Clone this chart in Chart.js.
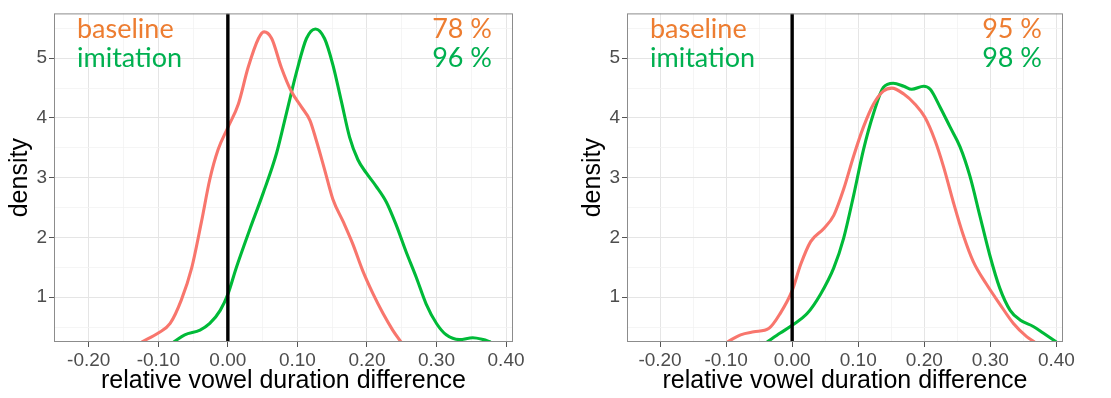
<!DOCTYPE html>
<html>
<head>
<meta charset="utf-8">
<script src="https://cdn.jsdelivr.net/npm/chart.js@4"></script>
<style>
  body { margin: 0; background: #fff; width: 1111px; height: 398px; overflow: hidden; position: relative; }
  canvas { position: absolute; top: 0; }
  #links { left: 0; }
  #rechts { left: 573px; }
</style>
</head>
<body>
<canvas id="links" width="530" height="398"></canvas>
<canvas id="rechts" width="538" height="398"></canvas>
<script>
// Datos
const xTicks = [-0.25, -0.20, -0.15, -0.10, -0.05, 0.00, 0.05, 0.10, 0.15, 0.20, 0.25, 0.30, 0.35, 0.40];
const yTicks = [0.5, 1, 1.5, 2, 2.5, 3, 3.5, 4, 4.5, 5, 5.5];

// panel izquierdo
const izqBaseX = [-0.124, -0.100, -0.083, -0.067, -0.052, -0.038, -0.026, -0.014, 0.000, 0.015, 0.029, 0.044, 0.052, 0.063, 0.077, 0.091, 0.106, 0.118, 0.127, 0.139, 0.151, 0.166, 0.180, 0.194, 0.209, 0.223, 0.237, 0.249];
const izqBaseY = [0.25, 0.40, 0.56, 0.95, 1.49, 2.26, 2.97, 3.47, 3.84, 4.23, 4.84, 5.33, 5.44, 5.33, 4.84, 4.45, 4.18, 3.96, 3.63, 3.14, 2.64, 2.26, 1.88, 1.44, 1.05, 0.73, 0.45, 0.25];
const izqImitX = [-0.078, -0.062, -0.040, -0.026, -0.011, 0.000, 0.012, 0.032, 0.051, 0.070, 0.084, 0.099, 0.113, 0.126, 0.139, 0.151, 0.163, 0.175, 0.187, 0.199, 0.213, 0.228, 0.242, 0.256, 0.271, 0.285, 0.300, 0.314, 0.333, 0.352, 0.367, 0.378];
const izqImitY = [0.25, 0.37, 0.45, 0.56, 0.78, 1.05, 1.49, 2.15, 2.75, 3.41, 4.07, 4.78, 5.33, 5.49, 5.33, 4.89, 4.29, 3.68, 3.30, 3.08, 2.86, 2.59, 2.21, 1.77, 1.33, 0.89, 0.56, 0.37, 0.29, 0.32, 0.29, 0.25];

// panel derecho
const derBaseX = [-0.098, -0.078, -0.058, -0.035, -0.018, 0.000, 0.013, 0.028, 0.048, 0.063, 0.078, 0.093, 0.108, 0.123, 0.138, 0.151, 0.169, 0.186, 0.201, 0.216, 0.229, 0.244, 0.259, 0.274, 0.294, 0.314, 0.335, 0.355, 0.367];
const derBaseY = [0.25, 0.37, 0.42, 0.48, 0.73, 1.11, 1.55, 1.93, 2.15, 2.37, 2.81, 3.36, 3.85, 4.23, 4.45, 4.50, 4.40, 4.23, 4.01, 3.63, 3.19, 2.59, 2.04, 1.60, 1.22, 0.89, 0.56, 0.34, 0.25];
const derImitX = [-0.038, -0.018, 0.000, 0.023, 0.043, 0.063, 0.078, 0.093, 0.108, 0.123, 0.138, 0.153, 0.169, 0.181, 0.199, 0.209, 0.224, 0.239, 0.254, 0.269, 0.284, 0.299, 0.314, 0.330, 0.345, 0.365, 0.380, 0.400];
const derImitY = [0.25, 0.40, 0.53, 0.73, 1.05, 1.49, 1.99, 2.70, 3.47, 4.07, 4.51, 4.58, 4.53, 4.48, 4.53, 4.48, 4.18, 3.85, 3.52, 3.03, 2.37, 1.71, 1.16, 0.78, 0.62, 0.51, 0.40, 0.25];

// línea vertical en cero
const lineaCeroX = [0, 0];
const lineaCeroY = [0.25, 5.75];

// porcentajes
const izqPorc = ["78 %", "96 %"];
const derPorc = ["95 %", "98 %"];

const rojo = "#F8766D";
const verde = "#00BA38";
const naranjaTexto = "#ED7D31";
const verdeTexto = "#00B050";

function puntos(xs, ys) {
  return xs.map((x, i) => ({ x: x, y: ys[i] }));
}

function esMayor(v, paso) {
  return Math.abs(v / paso - Math.round(v / paso)) < 1e-6;
}

/* TEXTOS Y MARCO */
function pluginTextos(porc) {
  return {
    id: "textos",
    afterDraw(chart) {
      const c = chart.ctx;
      const a = chart.chartArea;
      c.save();
      c.strokeStyle = "#8c8c8c";
      c.lineWidth = 1;
      c.strokeRect(a.left + 0.5, a.top + 0.5, a.right - a.left - 1, a.bottom - a.top - 1);
      c.font = "27px Lato";
      c.textBaseline = "alphabetic";
      c.textAlign = "left";
      c.fillStyle = naranjaTexto;
      c.fillText("baseline", a.left + 23, 38);
      c.fillStyle = verdeTexto;
      c.fillText("imitation", a.left + 23, 67);
      c.textAlign = "right";
      c.fillStyle = naranjaTexto;
      c.fillText(porc[0], a.right - 21, 38);
      c.fillStyle = verdeTexto;
      c.fillText(porc[1], a.right - 21, 67);
      c.restore();
    }
  };
}

function crearGrafica(id, base, imit, porc, derecha) {
  const ctx = document.getElementById(id);
  new Chart(ctx, {
    type: "line",
    data: {
      datasets: [
        {
          data: puntos(lineaCeroX, lineaCeroY),
          borderColor: "#000",
          borderWidth: 3.4,
          pointRadius: 0,
          tension: 0
        },
        {
          data: base,
          borderColor: rojo,
          borderWidth: 3.1,
          pointRadius: 0,
          cubicInterpolationMode: "monotone"
        },
        {
          data: imit,
          borderColor: verde,
          borderWidth: 3.1,
          pointRadius: 0,
          cubicInterpolationMode: "monotone"
        }
      ]
    },
    options: {
      responsive: false,
      animation: false,
      layout: {
        padding: { top: 8, right: derecha, left: 0, bottom: 0 }
      },
      plugins: {
        legend: { display: false },
        tooltip: { enabled: false }
      },
      scales: {
        x: {
          type: "linear",
          min: -0.25,
          max: 0.41,
          afterBuildTicks: (s) => { s.ticks = xTicks.map(v => ({ value: v })); },
          afterFit: (s) => { s.height = 56; },
          border: { display: false },
          grid: {
            color: (c) => c.tick && esMayor(c.tick.value, 0.1) ? "#e5e5e5" : "#f3f3f3",
            lineWidth: (c) => c.tick && esMayor(c.tick.value, 0.1) ? 1 : 0.8,
            tickColor: (c) => c.tick && esMayor(c.tick.value, 0.1) ? "#555" : "rgba(0,0,0,0)",
            tickLength: 5
          },
          ticks: {
            autoSkip: false,
            maxRotation: 0,
            padding: 2,
            color: "#4D4D4D",
            font: { family: "Liberation Sans, Arial", size: 19 },
            callback: (v) => esMayor(v, 0.1) ? v.toFixed(2) : ""
          },
          title: {
            display: true,
            text: "relative vowel duration difference",
            color: "#000",
            font: { family: "Liberation Sans, Arial", size: 25 },
            padding: { top: 0, bottom: 2 }
          }
        },
        y: {
          min: 0.25,
          max: 5.75,
          afterBuildTicks: (s) => { s.ticks = yTicks.map(v => ({ value: v })); },
          afterFit: (s) => { s.width = 54; },
          border: { display: false },
          grid: {
            color: (c) => c.tick && esMayor(c.tick.value, 1) ? "#e5e5e5" : "#f3f3f3",
            lineWidth: (c) => c.tick && esMayor(c.tick.value, 1) ? 1 : 0.8,
            tickColor: (c) => c.tick && esMayor(c.tick.value, 1) ? "#555" : "rgba(0,0,0,0)",
            tickLength: 5
          },
          ticks: {
            autoSkip: false,
            padding: 2,
            color: "#4D4D4D",
            font: { family: "Liberation Sans, Arial", size: 19 },
            callback: (v) => esMayor(v, 1) ? String(v) : ""
          },
          title: {
            display: true,
            text: "density",
            color: "#000",
            font: { family: "Liberation Sans, Arial", size: 25 },
            padding: { top: 5, bottom: 0 }
          }
        }
      }
    },
    plugins: [pluginTextos(porc)]
  });
}

crearGrafica("links", puntos(izqBaseX, izqBaseY), puntos(izqImitX, izqImitY), izqPorc, 17);
crearGrafica("rechts", puntos(derBaseX, derBaseY), puntos(derImitX, derImitY), derPorc, 48);
</script>
</body>
</html>
